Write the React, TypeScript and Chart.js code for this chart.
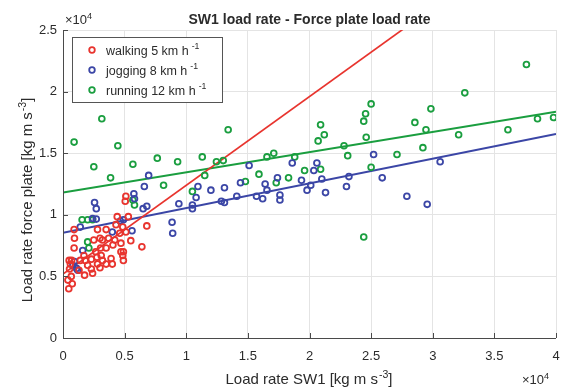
import { useEffect, useRef } from 'react';
import { Chart, registerables } from 'chart.js';

Chart.register(...registerables);

// values in units of ×10^4
const xTicks = [0, 0.5, 1, 1.5, 2, 2.5, 3, 3.5, 4];
const yTicks = [0, 0.5, 1, 1.5, 2, 2.5];

const walkingX = [0.51, 0.505, 0.44, 0.53, 0.68, 0.28, 0.35, 0.43, 0.485, 0.093, 0.09, 0.25, 0.3, 0.32, 0.37, 0.42, 0.46, 0.51, 0.47, 0.405, 0.35, 0.305, 0.265, 0.64, 0.47, 0.31, 0.275, 0.23, 0.18, 0.14, 0.05, 0.32, 0.39, 0.4, 0.49, 0.28, 0.3, 0.2, 0.23, 0.175, 0.24, 0.053, 0.067, 0.04, 0.075, 0.047, 0.49, 0.485, 0.09, 0.07, 0.06, 0.35, 0.55, 0.13, 0.17];
const walkingY = [1.15, 1.11, 0.985, 0.985, 0.91, 0.88, 0.88, 0.92, 0.9, 0.81, 0.73, 0.795, 0.81, 0.795, 0.81, 0.795, 0.85, 0.86, 0.77, 0.755, 0.73, 0.73, 0.7, 0.74, 0.7, 0.67, 0.655, 0.64, 0.63, 0.63, 0.63, 0.63, 0.645, 0.6, 0.63, 0.6, 0.57, 0.59, 0.56, 0.51, 0.525, 0.56, 0.5, 0.47, 0.44, 0.4, 0.7, 0.67, 0.88, 0.63, 0.6, 0.6, 0.79, 0.55, 0.67];

const joggingX = [0.695, 0.66, 0.575, 0.58, 0.256, 0.27, 0.65, 0.68, 0.24, 0.27, 0.14, 0.4, 0.465, 0.49, 0.56, 0.16, 0.093, 0.08, 0.11, 0.12, 1.095, 1.2, 1.31, 1.44, 1.08, 1.05, 1.05, 0.94, 1.285, 1.31, 1.41, 0.885, 0.89, 1.51, 1.57, 1.62, 1.64, 1.655, 1.74, 1.76, 1.76, 1.86, 1.935, 1.98, 2.01, 2.035, 2.06, 2.1, 2.13, 2.3, 2.32, 2.52, 2.59, 2.79, 2.955, 3.06];
const joggingY = [1.32, 1.23, 1.17, 1.13, 1.1, 1.05, 1.05, 1.07, 0.97, 0.965, 0.9, 0.86, 0.95, 0.96, 0.87, 0.71, 0.62, 0.59, 0.565, 0.55, 1.23, 1.2, 1.22, 1.26, 1.14, 1.08, 1.05, 1.09, 1.11, 1.1, 1.15, 0.94, 0.85, 1.4, 1.15, 1.13, 1.25, 1.2, 1.3, 1.16, 1.12, 1.42, 1.28, 1.2, 1.24, 1.36, 1.42, 1.29, 1.18, 1.23, 1.31, 1.49, 1.3, 1.15, 1.085, 1.43];

const runningX = [0.09, 0.315, 0.445, 1.34, 0.765, 1.13, 0.25, 0.567, 0.386, 0.816, 0.567, 0.58, 0.155, 0.2, 0.24, 0.2, 0.21, 0.93, 1.245, 1.3, 1.15, 1.05, 1.48, 1.59, 1.655, 1.71, 1.73, 1.83, 1.88, 1.96, 2.09, 2.07, 2.09, 2.12, 2.28, 2.31, 2.44, 2.455, 2.44, 2.46, 2.5, 2.5, 2.71, 2.855, 2.985, 2.945, 2.92, 3.21, 3.26, 3.61, 3.76, 3.85, 3.98];
const runningY = [1.59, 1.78, 1.56, 1.69, 1.46, 1.47, 1.39, 1.41, 1.3, 1.24, 1.12, 1.08, 0.96, 0.96, 0.96, 0.78, 0.73, 1.43, 1.43, 1.44, 1.32, 1.19, 1.27, 1.33, 1.47, 1.5, 1.26, 1.3, 1.47, 1.36, 1.37, 1.6, 1.73, 1.65, 1.56, 1.48, 0.82, 1.82, 1.76, 1.63, 1.9, 1.385, 1.49, 1.75, 1.86, 1.69, 1.545, 1.65, 1.99, 1.69, 2.22, 1.78, 1.79];

// linear fits: [intercept, slope]
const fitX = [0, 4];
const walkingFit = [0.52, 0.72];
const joggingFit = [0.855, 0.2];
const runningFit = [1.18, 0.164];

const RED = '#e8342e';
const BLUE = '#3b46a6';
const GREEN = '#1a9e3f';
const FONT = '"Liberation Sans", Arial, Helvetica, sans-serif';
const TEXT = '#2b2b2b';

function supText(ctx: CanvasRenderingContext2D, x: number, y: number, base: string, sup: string, after: string, size: number, align: 'left' | 'center', gap = 1) {
  ctx.font = `${size}px ${FONT}`;
  const wb = ctx.measureText(base).width;
  const wa = ctx.measureText(after).width;
  const ss = size * 0.7;
  ctx.font = `${ss}px ${FONT}`;
  const ws = ctx.measureText(sup).width;
  const total = wb + gap + ws + wa;
  const sx = align === 'center' ? x - total / 2 : x;
  ctx.textAlign = 'left';
  ctx.textBaseline = 'alphabetic';
  ctx.font = `${size}px ${FONT}`;
  ctx.fillText(base, sx, y);
  ctx.font = `${ss}px ${FONT}`;
  ctx.fillText(sup, sx + wb + gap, y - size * 0.42);
  ctx.font = `${size}px ${FONT}`;
  ctx.fillText(after, sx + wb + gap + ws, y);
}

const decor = {
  id: 'decor',
  afterDraw(chart: any) {
    const ctx: CanvasRenderingContext2D = chart.ctx;
    const { left, right, top, bottom } = chart.chartArea;
    const xs = chart.scales.x;
    const ys = chart.scales.y;
    ctx.save();
    // axes lines
    ctx.strokeStyle = '#4a4a4a';
    ctx.lineWidth = 1;
    ctx.beginPath();
    ctx.moveTo(left + 0.5, top);
    ctx.lineTo(left + 0.5, bottom + 0.5);
    ctx.lineTo(right, bottom + 0.5);
    xTicks.forEach((v) => {
      const px = Math.round(xs.getPixelForValue(v)) + 0.5;
      ctx.moveTo(px, bottom);
      ctx.lineTo(px, bottom - 5);
    });
    yTicks.forEach((v) => {
      const py = Math.round(ys.getPixelForValue(v)) + 0.5;
      ctx.moveTo(left, py);
      ctx.lineTo(left + 5, py);
    });
    ctx.stroke();

    ctx.fillStyle = TEXT;
    // title
    ctx.font = `bold 14px ${FONT}`;
    ctx.textAlign = 'center';
    ctx.textBaseline = 'alphabetic';
    ctx.fillText('SW1 load rate - Force plate load rate', (left + right) / 2, 24);

    // exponent labels
    supText(ctx, left + 2, 24, '\u00d710', '4', '', 13, 'left', 0);
    supText(ctx, right - 34, 384, '\u00d710', '4', '', 13, 'left', 0);

    // axis titles
    ctx.fillStyle = TEXT;
    supText(ctx, 309, 384, 'Load rate SW1 [kg m s', '-3', ']', 15, 'center', 1);
    ctx.save();
    ctx.translate(32, 200);
    ctx.rotate(-Math.PI / 2);
    supText(ctx, 0, 0, 'Load rate force plate [kg m s', '-3', ']', 15, 'center', 1);
    ctx.restore();

    // legend
    const lx = 72, ly = 37, lw = 150, lh = 65;
    ctx.fillStyle = '#ffffff';
    ctx.fillRect(lx, ly, lw, lh);
    ctx.strokeStyle = '#555555';
    ctx.lineWidth = 1;
    ctx.strokeRect(lx + 0.5, ly + 0.5, lw, lh);
    const items: [string, string][] = [
      [RED, 'walking 5 km h'],
      [BLUE, 'jogging 8 km h'],
      [GREEN, 'running 12 km h'],
    ];
    items.forEach(([c, t], i) => {
      const cy = 50 + i * 20;
      ctx.strokeStyle = c;
      ctx.lineWidth = 1.8;
      ctx.beginPath();
      ctx.arc(92, cy, 2.8, 0, Math.PI * 2);
      ctx.stroke();
      ctx.fillStyle = TEXT;
      supText(ctx, 106, cy + 4.5, t, '-1', '', 12.5, 'left', 3);
    });
    ctx.restore();
  },
};

function pts(xs: number[], ys: number[]) {
  return xs.map((x, i) => ({ x, y: ys[i] }));
}
function fit(f: number[]) {
  return fitX.map((x) => ({ x, y: f[0] + f[1] * x }));
}

export default function App() {
  const ref = useRef<HTMLCanvasElement | null>(null);
  useEffect(() => {
    if (!ref.current) return;
    const scatterDs = (data: any, color: string) => ({
      type: 'scatter' as const,
      data,
      borderColor: color,
      backgroundColor: 'rgba(0,0,0,0)',
      pointRadius: 2.9,
      pointBorderWidth: 1.8,
      pointHoverRadius: 2.9,
      showLine: false,
    });
    const lineDs = (data: any, color: string, w: number) => ({
      type: 'line' as const,
      data,
      borderColor: color,
      borderWidth: w,
      pointRadius: 0,
      fill: false,
      tension: 0,
    });
    const gridOpts = { color: '#e4e4e4', lineWidth: 1, drawTicks: false };
    const tickFont = { family: FONT, size: 13 };
    const chart = new Chart(ref.current, {
      type: 'scatter',
      data: {
        datasets: [
          scatterDs(pts(walkingX, walkingY), RED),
          scatterDs(pts(joggingX, joggingY), BLUE),
          scatterDs(pts(runningX, runningY), GREEN),
          lineDs(fit(walkingFit), RED, 1.7),
          lineDs(fit(joggingFit), BLUE, 2),
          lineDs(fit(runningFit), GREEN, 2),
        ] as any,
      },
      options: {
        responsive: false,
        animation: false,
        layout: { padding: { top: 30, right: 7, left: 0, bottom: 0 } },
        plugins: { legend: { display: false }, tooltip: { enabled: false }, title: { display: false } },
        scales: {
          x: {
            type: 'linear',
            min: 0,
            max: 4,
            afterBuildTicks: (s: any) => { s.ticks = xTicks.map((v) => ({ value: v })); },
            afterFit: (s: any) => { s.height = 53; s.paddingLeft = 0; s.paddingRight = 0; },
            ticks: { font: tickFont, color: TEXT, padding: 11, callback: (v: any) => String(v), maxRotation: 0, autoSkip: false },
            grid: gridOpts,
            border: { display: false },
          },
          y: {
            type: 'linear',
            min: 0,
            max: 2.5,
            afterBuildTicks: (s: any) => { s.ticks = yTicks.map((v) => ({ value: v })); },
            afterFit: (s: any) => { s.width = 63; s.paddingTop = 0; s.paddingBottom = 0; },
            ticks: { font: tickFont, color: TEXT, padding: 6, callback: (v: any) => String(v), autoSkip: false },
            grid: gridOpts,
            border: { display: false },
          },
        },
      } as any,
      plugins: [decor],
    });
    return () => chart.destroy();
  }, []);
  return (
    <div style={{ position: 'fixed', left: 0, top: 0, width: 563, height: 391, background: '#fff' }}>
      <canvas ref={ref} width={563} height={391} style={{ width: 563, height: 391, display: 'block' }} />
    </div>
  );
}
